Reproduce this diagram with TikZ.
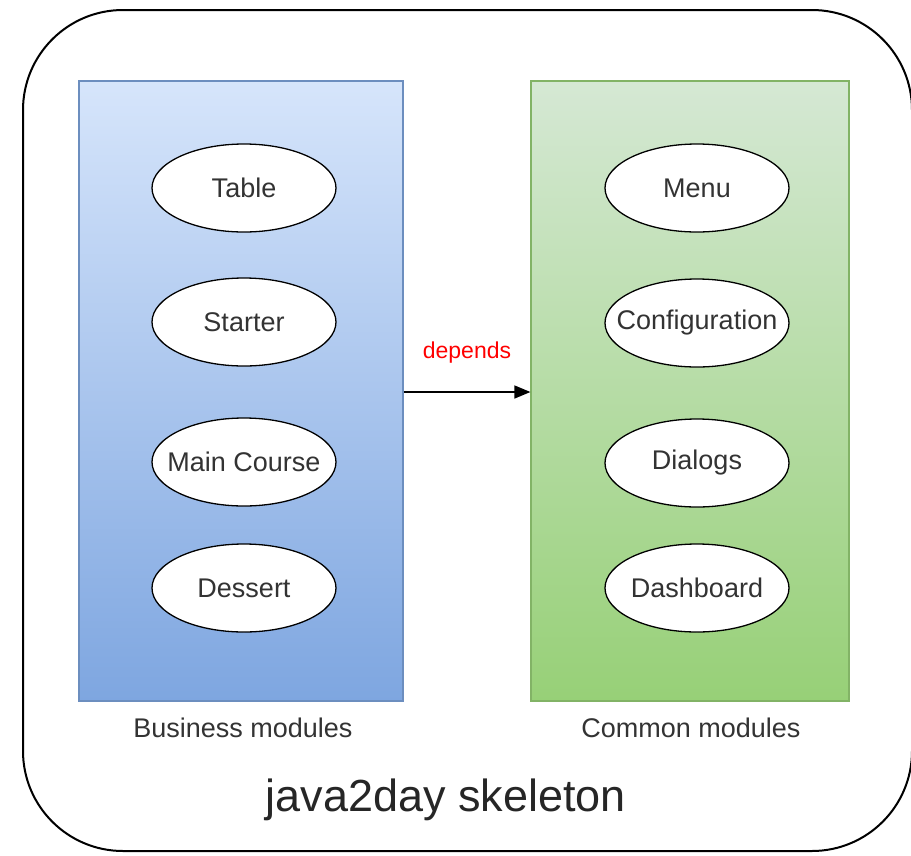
\documentclass[tikz,border=0pt]{standalone}
\usepackage{fontspec}
\setmainfont{Liberation Sans}
\usetikzlibrary{shapes.geometric,arrows.meta}
\definecolor{txt}{HTML}{333333}
\definecolor{bluetop}{HTML}{D6E5FB}
\definecolor{bluebot}{HTML}{7EA6E0}
\definecolor{blueline}{HTML}{6C8EBF}
\definecolor{greentop}{HTML}{D5E8D4}
\definecolor{greenbot}{HTML}{97D077}
\definecolor{greenline}{HTML}{82B366}
\newcommand{\fixw}[1]{\makebox[0pt]{#1}}
\tikzset{
  module/.style={ellipse, draw=black, line width=1.3pt, fill=white,
    minimum width=184pt, minimum height=88pt, inner sep=0pt,
    text=txt, font=\fontsize{27}{30}\selectfont},
  group/.style={draw, line width=1.2pt, minimum width=324pt, minimum height=620pt, inner sep=0pt},
  caption/.style={text=txt, font=\fontsize{27}{30}\selectfont},
}
\begin{document}
\begin{tikzpicture}[x=1pt,y=-1pt]
  \useasboundingbox (0,0) rectangle (911,855);
  \clip (0,0) rectangle (911,855);
  % outer frame
  \node[draw=black, line width=2pt, rounded corners=100pt, minimum width=889pt,
        minimum height=841pt, inner sep=0pt] (frame) at (467.5,430.5) {};
  % module groups
  \node[group, draw=blueline, top color=bluetop, bottom color=bluebot] (business) at (241,391) {};
  \node[group, minimum width=318pt, draw=greenline, top color=greentop, bottom color=greenbot] (common) at (690,391) {};
  % business modules
  \node[module] (table) at (244,188) {\fixw{Table}};
  \node[module] (starter) at (244,322) {\fixw{Starter}};
  \node[module] (main) at (244,462) {\fixw{Main Course}};
  \node[module] (dessert) at (244,588) {\fixw{Dessert}};
  % common modules
  \node[module] (menu) at (697,188) {\fixw{Menu}};
  \node[module] (config) at (697,323) {\fixw{Configuration}};
  \node[module] (dialogs) at (697,463) {\fixw{Dialogs}};
  \node[module] (dash) at (697,588) {\fixw{Dashboard}};
  % dependency
  \draw[line width=1.5pt, -{Triangle[length=16pt,width=13pt]}] (business.east |- 0,392) -- (common.west |- 0,392)
    node[midway, above=25pt, text=red, font=\fontsize{23}{26}\selectfont] (dep) {depends};
  % captions
  \node[caption] (bl) at (243,728) {Business modules};
  \node[caption] (cl) at (691,728) {Common modules};
  \node[text=black!85, font=\fontsize{45}{50}\selectfont] (title) at (446,800) {java2day skeleton};
\end{tikzpicture}
\end{document}
